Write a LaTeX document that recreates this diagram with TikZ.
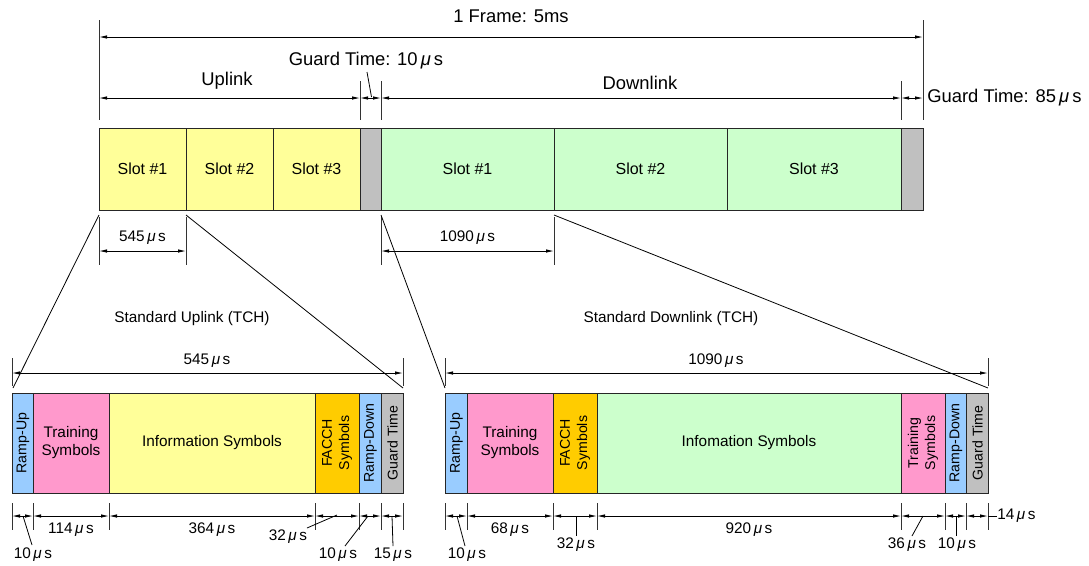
\documentclass[tikz,border=0pt]{standalone}
\usepackage{fontspec}
\setmainfont{Liberation Sans}
\usetikzlibrary{arrows.meta}
\newcommand{\muS}{\,\textit{μ}\,s}
\definecolor{upY}{HTML}{FFFF99}
\definecolor{dnG}{HTML}{CCFFCC}
\definecolor{grT}{HTML}{C0C0C0}
\definecolor{blR}{HTML}{99CCFF}
\definecolor{pkT}{HTML}{FF99CC}
\definecolor{orF}{HTML}{FFCC00}
\tikzset{
  dim/.style={{Latex[length=6pt,width=2.6pt]}-{Latex[length=6pt,width=2.6pt]}, line width=0.6pt},
  ext/.style={line width=0.7pt, draw=black!80},
  seg/.style={draw=black!85, line width=0.6pt},
  lead/.style={line width=0.6pt},
  lbl/.style={font=\fontsize{11.5}{13.5}\selectfont, inner sep=0pt, align=center},
  slotlbl/.style={font=\fontsize{12}{14}\selectfont, inner sep=0pt},
  big/.style={font=\fontsize{13.8}{16}\selectfont, inner sep=0pt},
  vlbl/.style={font=\fontsize{10.6}{12.8}\selectfont, inner sep=0pt, align=center, rotate=90},
}
\begin{document}
\begin{tikzpicture}[x=0.75pt, y=-0.75pt]
\useasboundingbox (0,0) rectangle (1089,565);

% ---------- top frame ----------
\draw[seg, fill=upY] (99,128) rectangle (186,210);
\node[slotlbl] (us1) at (142.5,169) {Slot \#1};
\draw[seg, fill=upY] (186,128) rectangle (273,210);
\node[slotlbl] (us2) at (229.5,169) {Slot \#2};
\draw[seg, fill=upY] (273,128) rectangle (360,210);
\node[slotlbl] (us3) at (316.5,169) {Slot \#3};
\draw[seg, fill=grT] (360,128) rectangle (381,210);
\draw[seg, fill=dnG] (381,128) rectangle (554,210);
\node[slotlbl] (ds1) at (467.5,169) {Slot \#1};
\draw[seg, fill=dnG] (554,128) rectangle (727,210);
\node[slotlbl] (ds2) at (640.5,169) {Slot \#2};
\draw[seg, fill=dnG] (727,128) rectangle (901,210);
\node[slotlbl] (ds3) at (814,169) {Slot \#3};
\draw[seg, fill=grT] (901,128) rectangle (923,210);

% top dimension lines
\coordinate (tA) at (99,37);  \coordinate (tB) at (923,37);
\coordinate (uA) at (99,98);  \coordinate (uB) at (360,98);
\coordinate (gA) at (381,98); \coordinate (dB) at (901,98);
\coordinate (eB) at (923,98);
\draw[ext] (99,20) -- (99,120);
\draw[ext] (923,20) -- (923,120);
\draw[ext] (360,81) -- (360,120);
\draw[ext] (381,81) -- (381,120);
\draw[ext] (901,81) -- (901,120);
\draw[dim] (tA) -- (tB);
\draw[dim] (uA) -- (uB);
\draw[dim] (uB) -- (gA);
\draw[dim] (gA) -- (dB);
\draw[dim] (dB) -- (eB);
\node[big] (frame) at (511,16) {1 Frame: 5ms};
\node[big] (uplk) at (227,81) {Uplink};
\node[big] (dnlk) at (640,83) {Downlink};
\node[big] (g10) at (366,61) {Guard Time: 10\muS};
\coordinate (g10e) at (371.5,97);
\draw[lead] (367,72) -- (g10e);
\node[big, anchor=west] (g85) at (927,98) {Guard Time: 85\muS};

% dims under top frame
\draw[ext] (99,217) -- (99,265);
\draw[ext] (186,217) -- (186,265);
\draw[ext] (381,217) -- (381,265);
\draw[ext] (554,217) -- (554,265);
\coordinate (s1a) at (99,251); \coordinate (s1b) at (186,251);
\coordinate (s2a) at (381,251); \coordinate (s2b) at (554,251);
\draw[dim] (s1a) -- (s1b);
\draw[dim] (s2a) -- (s2b);
\node[lbl] (d545) at (142.5,238) {545\muS};
\node[lbl] (d1090) at (467.5,238) {1090\muS};

% zoom lines
\coordinate (z1a) at (99,215);  \coordinate (z1b) at (13,388);
\coordinate (z2a) at (186,215); \coordinate (z2b) at (403,388);
\coordinate (z3a) at (381,215); \coordinate (z3b) at (445,388);
\coordinate (z4a) at (554,215); \coordinate (z4b) at (988,388);
\draw[lead] (z1a) -- (z1b);
\draw[lead] (z2a) -- (z2b);
\draw[lead] (z3a) -- (z3b);
\draw[lead] (z4a) -- (z4b);

% ---------- standard uplink ----------
\node[lbl] (tUL) at (192,319) {Standard Uplink (TCH)};
\draw[ext] (12,358) -- (12,386);
\draw[ext] (403,358) -- (403,386);
\coordinate (ulA) at (12,373); \coordinate (ulB) at (403,373);
\draw[dim] (ulA) -- (ulB);
\node[lbl] (ul545) at (207,361) {545\muS};

\draw[seg, fill=blR] (12,393) rectangle (33,493);
\node[vlbl] (ulru) at (23,443) {Ramp-Up};
\draw[seg, fill=pkT] (33,393) rectangle (109,493);
\node[lbl] (ultr) at (71,443) {Training\\Symbols};
\draw[seg, fill=upY] (109,393) rectangle (315,493);
\node[lbl] (ulin) at (212,443) {Information Symbols};
\draw[seg, fill=orF] (315,393) rectangle (359,493);
\node[vlbl] (ulfa) at (337,443) {FACCH\\Symbols};
\draw[seg, fill=blR] (359,393) rectangle (381,493);
\node[vlbl] (ulrd) at (370.5,443) {Ramp-Down};
\draw[seg, fill=grT] (381,393) rectangle (403,493);
\node[vlbl] (ulgt) at (392.5,443) {Guard Time};

\foreach \x in {12,33,109,315,359,381,403}{\draw[ext] (\x,503) -- (\x,530);}
\foreach \a/\b in {12/33,33/109,109/315,315/359,359/381,381/403}{
  \draw[dim] (\a,516) -- (\b,516);}
\node[lbl] (l114) at (71,530) {114\muS};
\node[lbl] (l364) at (212,530) {364\muS};
\node[lbl] (l32) at (288,537) {32\muS};
\node[lbl] (l10a) at (33,555) {10\muS};
\node[lbl] (l10b) at (338,555) {10\muS};
\node[lbl] (l15) at (393,555) {15\muS};
\draw[lead] (23,516) -- (32,545);
\draw[lead] (337,515) -- (307,528);
\draw[lead] (368,516) -- (345,546);
\draw[lead] (392,516) -- (393,546);

% ---------- standard downlink ----------
\node[lbl] (tDL) at (671,319) {Standard Downlink (TCH)};
\draw[ext] (445,358) -- (445,386);
\draw[ext] (988,358) -- (988,386);
\coordinate (dlA) at (445,373); \coordinate (dlB) at (988,373);
\draw[dim] (dlA) -- (dlB);
\node[lbl] (dl1090) at (716,361) {1090\muS};

\draw[seg, fill=blR] (445,393) rectangle (467,493);
\node[vlbl] (dlru) at (456.5,443) {Ramp-Up};
\draw[seg, fill=pkT] (467,393) rectangle (553,493);
\node[lbl] (dltr) at (510,443) {Training\\Symbols};
\draw[seg, fill=orF] (553,393) rectangle (597,493);
\node[vlbl] (dlfa) at (575,443) {FACCH\\Symbols};
\draw[seg, fill=dnG] (597,393) rectangle (901,493);
\node[lbl] (dlin) at (749,443) {Infomation Symbols};
\draw[seg, fill=pkT] (901,393) rectangle (945,493);
\node[vlbl] (dltr2) at (923,443) {Training\\Symbols};
\draw[seg, fill=blR] (945,393) rectangle (966,493);
\node[vlbl] (dlrd) at (956,443) {Ramp-Down};
\draw[seg, fill=grT] (966,393) rectangle (988,493);
\node[vlbl] (dlgt) at (977.5,443) {Guard Time};

\foreach \x in {445,467,553,597,901,945,966,988}{\draw[ext] (\x,503) -- (\x,530);}
\foreach \a/\b in {445/467,467/553,553/597,597/901,901/945,945/966,966/988}{
  \draw[dim] (\a,516) -- (\b,516);}
\node[lbl] (r68) at (510,530) {68\muS};
\node[lbl] (r920) at (749,530) {920\muS};
\node[lbl] (r32) at (576,545) {32\muS};
\node[lbl] (r10a) at (467,555) {10\muS};
\node[lbl] (r36) at (907,545) {36\muS};
\node[lbl] (r10b) at (957,545) {10\muS};
\node[lbl, anchor=west] (r14) at (997,516) {14\muS};
\draw[lead] (457,516) -- (465,546);
\draw[lead] (576,516) -- (576,536);
\draw[lead] (923,516) -- (912,536);
\draw[lead] (956,516) -- (956,536);
\draw[lead] (988,516) -- (r14.west);
\end{tikzpicture}
\end{document}
